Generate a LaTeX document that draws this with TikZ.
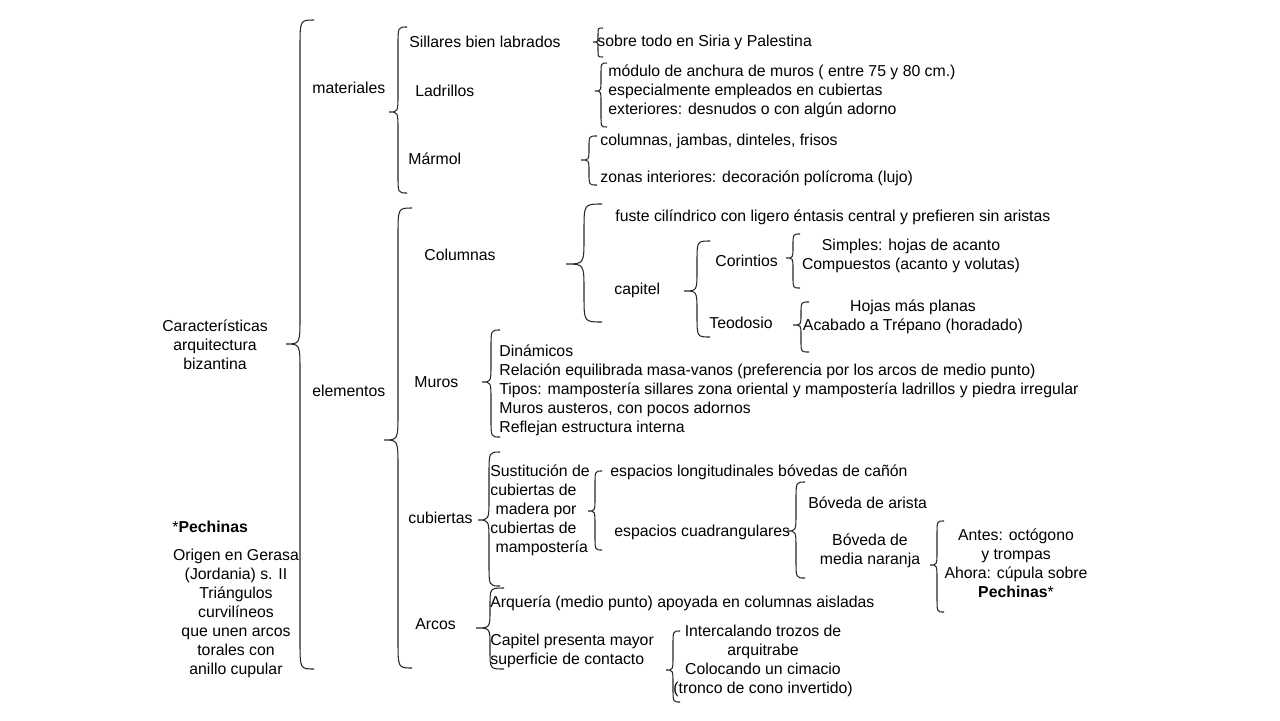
\documentclass[tikz,border=0pt]{standalone}
\usepackage{fontspec}
\setmainfont{Liberation Sans}

% llave: x, arriba, abajo, punta, ancho
\newcommand{\llave}[5]{%
  \pgfmathsetmacro{\llr}{min(2*#5,(#4-#2)/2.2,(#3-#4)/2.2)}%
  \draw[llave] ({#1+#5},#2) .. controls (#1,#2) .. (#1,{#2+\llr})
    -- (#1,{#4-\llr}) .. controls (#1,#4) .. ({#1-#5},#4)
    .. controls (#1,#4) .. (#1,{#4+\llr})
    -- (#1,{#3-\llr}) .. controls (#1,#3) .. ({#1+#5},#3);}

\begin{document}
\begin{tikzpicture}[
  x=0.02cm, y=-0.02cm,
  every node/.style={font=\fontsize{9}{10.8}\selectfont, inner sep=0pt},
  txt/.style={anchor=west, align=left},
  ctxt/.style={align=center},
  llave/.style={draw=black!85, line width=0.6pt}
]
  \useasboundingbox (0,0) rectangle (1280,720);

  % Raiz y primer nivel
  \node[ctxt] (raiz) at (215,345) {Características\\arquitectura\\bizantina};
  \node[txt] (mat) at (312,88) {materiales};
  \node[txt] (elem) at (312,391) {elementos};
  \llave{300}{20}{669}{344}{14}

  % Materiales
  \node[txt] (sill) at (409,42) {Sillares bien labrados};
  \node[txt] (ladr) at (415,91) {Ladrillos};
  \node[txt] (marm) at (408,159) {Mármol};
  \llave{398}{27}{193}{112}{9}

  \node[txt] (siria) at (597,42) {sobre todo en Siria y Palestina};
  \llave{598}{28}{57}{42}{5}
  \node[txt] (ladrtxt) at (608,91.5) {módulo de anchura de muros ( entre 75 y 80 cm.)\\especialmente empleados en cubiertas\\exteriores: desnudos o con algún adorno};
  \llave{601}{63}{127}{91}{6}
  \node[txt] (marm1) at (600,141) {columnas, jambas, dinteles, frisos};
  \node[txt] (marm2) at (600,178) {zonas interiores: decoración polícroma (lujo)};
  \llave{589}{136}{185}{160}{8}

  % Elementos
  \node[txt] (col) at (424,255) {Columnas};
  \node[txt] (muros) at (414,382) {Muros};
  \node[txt] (cub) at (408,518) {cubiertas};
  \node[txt] (arcos) at (415,624) {Arcos};
  \llave{398}{208}{668}{440}{14}

  % Columnas
  \node[txt] (fuste) at (615,217) {fuste cilíndrico con ligero éntasis central y prefieren sin aristas};
  \node[txt] (capitel) at (614,290) {capitel};
  \llave{584}{204}{322}{264}{18}
  \node[txt] (corin) at (715,261) {Corintios};
  \node[txt] (teod) at (709,323) {Teodosio};
  \llave{697}{241}{337}{291}{13}
  \node[ctxt] (corintxt) at (911,256) {Simples: hojas de acanto\\Compuestos (acanto y volutas)};
  \llave{793}{234}{288}{258}{7}
  \node[ctxt] (teodtxt) at (913,317) {Hojas más planas\\Acabado a Trépano (horadado)};
  \llave{801}{302}{352}{325}{8}

  % Muros
  \node[txt] (murostxt) at (499,390.5) {Dinámicos\\Relación equilibrada masa-vanos (preferencia por los arcos de medio punto)\\Tipos: mampostería sillares zona oriental y mampostería ladrillos y piedra irregular\\Muros austeros, con pocos adornos\\Reflejan estructura interna};
  \llave{491}{330}{437}{382}{9}

  % Cubiertas
  \node[txt] (sust) at (490,510.5) {Sustitución de\\cubiertas de\\\hspace{3pt}madera por\\cubiertas de\\\hspace{3pt}mampostería};
  \llave{489}{452}{586}{520}{11}
  \node[txt] (long) at (610,472) {espacios longitudinales bóvedas de cañón};
  \node[txt] (cuad) at (614,532) {espacios cuadrangulares};
  \llave{595}{471}{550}{511}{7}
  \node[txt] (arista) at (808,503) {Bóveda de arista};
  \node[ctxt] (media) at (870,550.5) {Bóveda de\\media naranja};
  \llave{796}{482}{578}{531}{9}
  \node[ctxt] (antes) at (1016,563.5) {Antes: octógono\\y trompas\\Ahora: cúpula sobre\\\textbf{Pechinas}*};
  \llave{937}{521}{612}{565}{7}

  % Arcos
  \node[txt] (arq) at (490,603) {Arquería (medio punto) apoyada en columnas aisladas};
  \node[txt] (capm) at (490,650.5) {Capitel presenta mayor\\superficie de contacto};
  \llave{490}{588}{669}{628}{14}
  \node[ctxt] (interc) at (763,660.5) {Intercalando trozos de\\arquitrabe\\Colocando un cimacio\\(tronco de cono invertido)};
  \llave{673}{631}{702}{670}{7}

  % Nota de pechinas
  \node[txt] (pech) at (172,527) {*\textbf{Pechinas}};
  \node[ctxt] (origen) at (236,613) {Origen en Gerasa\\(Jordania) s. II\\Triángulos\\curvilíneos\\que unen arcos\\torales con\\anillo cupular};
\end{tikzpicture}
\end{document}
